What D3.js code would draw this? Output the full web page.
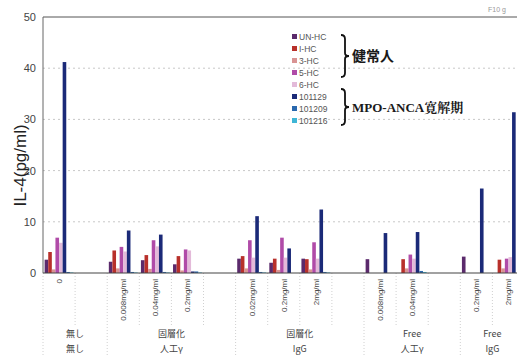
<!DOCTYPE html>
<html>
<head>
<meta charset="utf-8">
<script src="https://cdn.jsdelivr.net/npm/d3@7"></script>
<style>
  body { margin: 0; background: #fff; }
  svg { display: block; }
</style>
</head>
<body>
<figure id="chart" style="margin:0"></figure>
<script>
// x categories (blank slot closes each group)
const doses = ["0", "", "0.008mg/ml", "0.04mg/ml", "0.2mg/ml", "", "0.02mg/ml", "0.2mg/ml", "2mg/ml", "", "0.008mg/ml", "0.04mg/ml", "", "0.2mg/ml", "2mg/ml"];
const groupTop = ["無し", "固層化", "固層化", "Free", "Free"];
const groupBottom = ["無し", "人工γ", "IgG", "人工γ", "IgG"];
const groupSlots = [[0, 1], [2, 5], [6, 9], [10, 12], [13, 14]];

const seriesNames = ["UN-HC", "I-HC", "3-HC", "5-HC", "6-HC", "101129", "101209", "101216"];
const seriesColors = ["#5b2a6c", "#b8302b", "#d99393", "#b04ba8", "#e3bad9", "#1b2a78", "#2a68ae", "#3fb6d6"];

const unHC    = [2.6, null, 2.2, 2.5, 1.7, null, 2.8, 2.0, 2.8, null, 2.7, 0, null, 3.2, 0];
const iHC     = [4.1, null, 4.4, 3.5, 3.3, null, 3.3, 2.8, 2.7, null, 0, 2.7, null, 0, 2.6];
const hc3     = [0.7, null, 0.9, 0.8, 0.5, null, 0.9, 0.6, 0.7, null, 0, 0.9, null, 0, 0.9];
const hc5     = [6.9, null, 5.1, 6.4, 4.6, null, 6.4, 6.9, 6.0, null, 0, 3.6, null, 0, 2.8];
const hc6     = [5.9, null, 4.2, 5.2, 4.4, null, 3.0, 3.0, 2.8, null, 0, 2.8, null, 0, 3.1];
const p101129 = [41.2, null, 8.3, 7.5, 0.3, null, 11.1, 4.8, 12.4, null, 7.8, 8.0, null, 16.5, 31.4];
const p101209 = [0.2, null, 0.2, 0.2, 0.3, null, 0.2, 0, 0.2, null, 0, 0.4, null, 0, 0];
const p101216 = [0.1, null, 0.1, 0.1, 0.1, null, 0.1, 0, 0.1, null, 0, 0.2, null, 0, 0];
const seriesValues = [unHC, iHC, hc3, hc5, hc6, p101129, p101209, p101216];

const yTicks = [0, 10, 20, 30, 40, 50];

const width = 517, height = 355;
const plotLeft = 43, plotTop = 17, plotBottom = 273;
const slotW = 32.1;

const svg = d3.select("figure#chart")
  .append("svg")
  .attr("width", width)
  .attr("height", height);

const x = d3.scaleBand()
  .domain(d3.range(doses.length))
  .range([plotLeft, plotLeft + slotW * doses.length])
  .padding(0);

const xs = d3.scaleBand()
  .domain(d3.range(seriesNames.length))
  .range([0, x.bandwidth()])
  .paddingInner(0)
  .paddingOuter(0.45);

const y = d3.scaleLinear().domain([0, 50]).range([plotBottom, plotTop]);

// gridlines
svg.append("g")
  .selectAll("line")
  .data(yTicks.filter(d => d > 0 && d < 50))
  .join("line")
  .attr("x1", plotLeft).attr("x2", width)
  .attr("y1", d => y(d)).attr("y2", d => y(d))
  .attr("stroke", "#c8c8c8")
  .attr("stroke-dasharray", "2,3");

// separators under the axis
const bounds = d3.range(doses.length + 1).map(i => plotLeft + i * slotW);
const groupBounds = new Set(groupSlots.map(g => g[0]));
svg.append("g")
  .selectAll("line")
  .data(d3.range(doses.length + 1))
  .join("line")
  .attr("x1", i => bounds[i]).attr("x2", i => bounds[i])
  .attr("y1", plotBottom)
  .attr("y2", i => groupBounds.has(i) ? height : 326)
  .attr("stroke", "#d0d0d0")
  .attr("stroke-dasharray", "1,2");

// bars
seriesValues.forEach((vals, s) => {
  svg.append("g")
    .attr("fill", seriesColors[s])
    .selectAll("rect")
    .data(vals.map((v, i) => ({ v, i })).filter(d => d.v !== null && d.v > 0))
    .join("rect")
    .attr("x", d => x(d.i) + xs(s))
    .attr("width", xs.bandwidth())
    .attr("y", d => y(d.v))
    .attr("height", d => y(0) - y(d.v));
});

// axes frame
svg.append("line")
  .attr("x1", plotLeft).attr("x2", width).attr("y1", y(50)).attr("y2", y(50))
  .attr("stroke", "#555").attr("stroke-width", 1);
svg.append("line")
  .attr("x1", plotLeft).attr("x2", plotLeft).attr("y1", y(50)).attr("y2", y(0))
  .attr("stroke", "#666").attr("stroke-width", 1);
svg.append("line")
  .attr("x1", plotLeft).attr("x2", width).attr("y1", y(0)).attr("y2", y(0))
  .attr("stroke", "#444").attr("stroke-width", 1.2);

// y ticks
const yAxis = d3.axisLeft(y).tickValues(yTicks).tickSize(0).tickPadding(7);
const ya = svg.append("g").attr("transform", `translate(${plotLeft},0)`).call(yAxis);
ya.select(".domain").remove();
ya.selectAll("text")
  .style("font-family", "Arial, 'Liberation Sans', sans-serif")
  .style("font-size", "11px")
  .attr("fill", "#444");

svg.append("text")
  .attr("transform", `translate(26,${y(21)}) rotate(-90)`)
  .attr("text-anchor", "middle")
  .style("font-family", "Arial, 'Liberation Sans', sans-serif")
  .style("font-size", "17px")
  .attr("fill", "#222")
  .text("IL-4(pg/ml)");

// rotated dose labels
svg.append("g")
  .selectAll("text")
  .data(doses.map((d, i) => ({ d, i })).filter(o => o.d !== ""))
  .join("text")
  .attr("transform", o => `translate(${x(o.i) + x.bandwidth() / 2 + 3},${plotBottom + 6}) rotate(-90)`)
  .attr("text-anchor", "end")
  .style("font-family", "Arial, 'Liberation Sans', sans-serif")
  .style("font-size", "8px")
  .attr("fill", "#444")
  .text(o => o.d);

// group labels
const groupCenter = g => (x(g[0]) + x(g[1]) + x.bandwidth()) / 2;
[groupTop, groupBottom].forEach((labels, row) => {
  svg.append("g")
    .selectAll("text")
    .data(labels)
    .join("text")
    .attr("x", (d, i) => groupCenter(groupSlots[i]))
    .attr("y", row === 0 ? 337 : 352)
    .attr("text-anchor", "middle")
    .style("font-family", "'Noto Sans CJK JP', Arial, sans-serif")
    .style("font-size", "9px")
    .attr("fill", "#444")
    .text(d => d);
});

// legend
const legend = svg.append("g").attr("transform", "translate(292,37)");
const rowH = 12;
legend.selectAll("rect")
  .data(seriesNames)
  .join("rect")
  .attr("x", 0)
  .attr("y", (d, i) => i * rowH - 3)
  .attr("width", 5).attr("height", 5)
  .attr("fill", (d, i) => seriesColors[i]);
legend.selectAll("text")
  .data(seriesNames)
  .join("text")
  .attr("x", 7)
  .attr("y", (d, i) => i * rowH + 2.5)
  .style("font-family", "Arial, 'Liberation Sans', sans-serif")
  .style("font-size", "8.5px")
  .attr("fill", "#555")
  .text(d => d);

// braces
function brace(x0, y0, y1) {
  const m = (y0 + y1) / 2;
  return `M${x0},${y0} Q${x0 + 4},${y0} ${x0 + 4},${y0 + 4} L${x0 + 4},${m - 3} Q${x0 + 4},${m} ${x0 + 8},${m}` +
         ` Q${x0 + 4},${m} ${x0 + 4},${m + 3} L${x0 + 4},${y1 - 4} Q${x0 + 4},${y1} ${x0},${y1}`;
}
const braceGroups = [
  { from: 0, to: 3, label: "健常人", size: 14, font: "'Noto Sans CJK JP', sans-serif" },
  { from: 4, to: 7, label: "MPO-ANCA寛解期", size: 13, font: "'Liberation Serif', 'Noto Serif CJK JP', serif" }
];
braceGroups.forEach((b, k) => {
  const y0 = 37 + b.from * rowH - (k === 0 ? 2 : -4);
  const y1 = 37 + b.to * rowH + 4;
  svg.append("path")
    .attr("d", brace(341, y0, y1))
    .attr("fill", "none")
    .attr("stroke", "#111")
    .attr("stroke-width", 1.8);
  svg.append("text")
    .attr("x", 352)
    .attr("y", (y0 + y1) / 2 + 5)
    .style("font-family", b.font)
    .style("font-size", b.size + "px")
    .style("font-weight", "bold")
    .attr("fill", "#1a1a1a")
    .text(b.label);
});

// faint note at the top right
svg.append("text")
  .attr("x", 488).attr("y", 12)
  .style("font-family", "Arial, sans-serif")
  .style("font-size", "7px")
  .attr("fill", "#999")
  .text("F10 g");
</script>
</body>
</html>
